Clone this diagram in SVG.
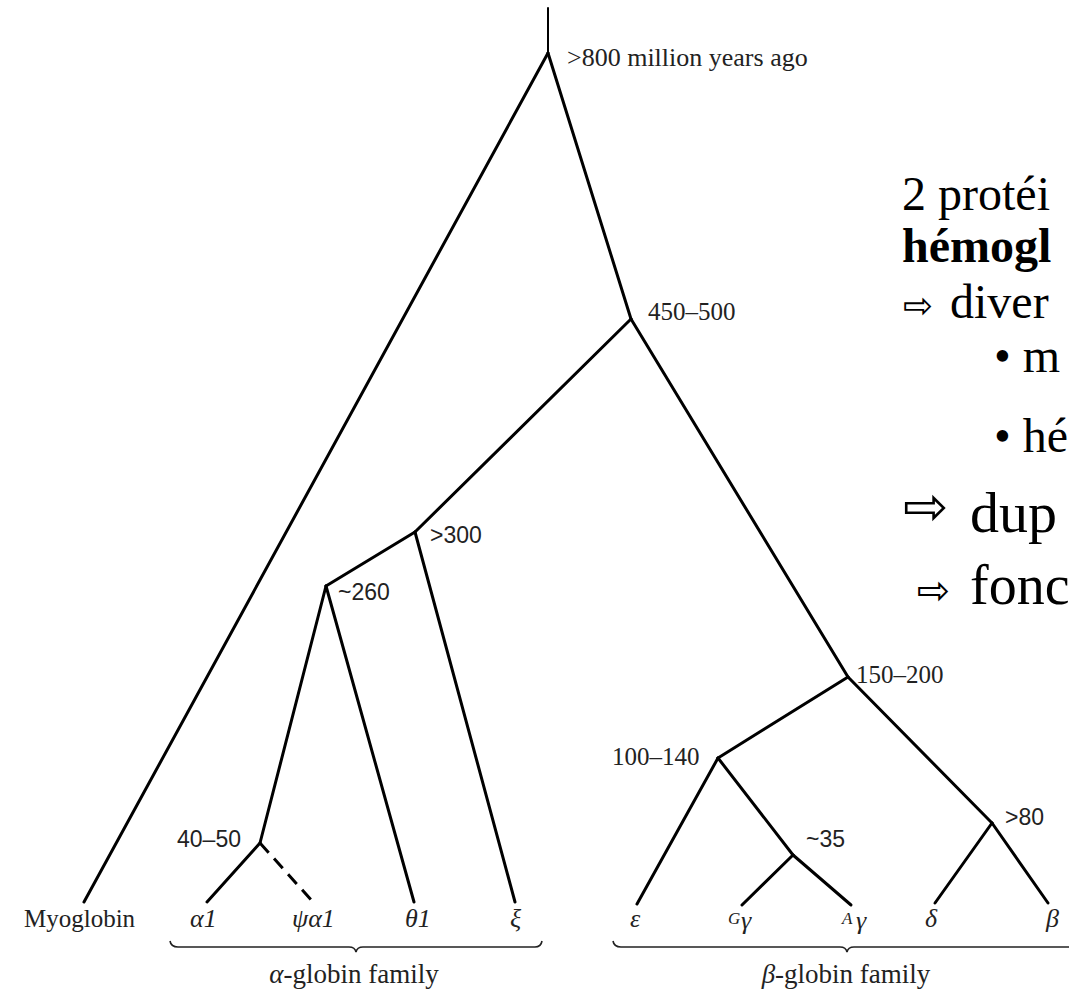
<svg xmlns="http://www.w3.org/2000/svg" width="1069" height="990" viewBox="0 0 1069 990">
<style>
.br{fill:none;stroke:#000;stroke-width:3;stroke-linecap:round}
.dash{stroke-dasharray:13 8;stroke-linecap:butt}
.brace{fill:none;stroke:#222;stroke-width:1.6}
.lab{font-family:"Liberation Serif","Times New Roman",serif;font-size:25px;fill:#222}
.san{font-family:"Liberation Sans",Arial,sans-serif;font-size:23px;fill:#222}
.leaf{font-family:"Liberation Serif","Times New Roman",serif;font-size:26px;font-style:italic;fill:#222}
.sup{font-family:"Liberation Serif","Times New Roman",serif;font-size:17px;font-style:italic;fill:#222}
.fam{font-family:"Liberation Serif","Times New Roman",serif;font-size:27px;fill:#222}
.txt{font-family:"Liberation Serif","Times New Roman",serif;font-size:48px;fill:#000}
.big{font-family:"Liberation Serif","Times New Roman",serif;font-size:58px;fill:#000}
.arr{font-family:"DejaVu Sans",sans-serif;fill:#000}
</style>
<rect width="1069" height="990" fill="#fff"/>
<g id="connectors">
<path class="br" style="stroke-width:2" d="M548,8 L548,53"/>
<path class="br" d="M548,53 L84,902"/>
<path class="br" d="M548,53 L631,319"/>
<path class="br" d="M631,319 L415,532"/>
<path class="br" d="M631,319 L848,677"/>
<path class="br" d="M415,532 L326,586"/>
<path class="br" d="M415,532 L515,902"/>
<path class="br" d="M326,586 L260,843"/>
<path class="br" d="M326,586 L414,902"/>
<path class="br" d="M260,843 L207,902"/>
<path class="br dash" d="M260,843 L313,902"/>
<path class="br" d="M848,677 L718,758"/>
<path class="br" d="M848,677 L992,823"/>
<path class="br" d="M718,758 L637,904"/>
<path class="br" d="M718,758 L793,855"/>
<path class="br" d="M793,855 L742,905"/>
<path class="br" d="M793,855 L851,905"/>
<path class="br" d="M992,823 L935,903"/>
<path class="br" d="M992,823 L1048,903"/>
</g>
<g id="node-root"><text class="lab" x="567" y="66" style="font-size:26px">&gt;800 million years ago</text></g>
<g id="node-450"><text class="lab" x="648" y="320">450–500</text></g>
<g id="node-300"><text class="san" x="430" y="543">&gt;300</text></g>
<g id="node-260"><text class="san" x="338" y="600">~260</text></g>
<g id="node-40"><text class="san" x="241" y="847" text-anchor="end">40–50</text></g>
<g id="node-150"><text class="lab" x="856" y="683">150–200</text></g>
<g id="node-100"><text class="lab" x="612" y="765">100–140</text></g>
<g id="node-35"><text class="san" x="806" y="847">~35</text></g>
<g id="node-80"><text class="san" x="1005" y="825">&gt;80</text></g>
<g id="leaf-myoglobin"><text class="lab" x="24" y="927">Myoglobin</text></g>
<g id="leaf-a1"><text class="leaf" x="190" y="927">α1</text></g>
<g id="leaf-psia1"><text class="leaf" x="292" y="927">ψα1</text></g>
<g id="leaf-theta1"><text class="leaf" x="405" y="927">θ1</text></g>
<g id="leaf-xi"><text class="leaf" x="510" y="927">ξ</text></g>
<g id="leaf-eps"><text class="leaf" x="630" y="927">ε</text></g>
<g id="leaf-Gg"><text class="sup" x="728" y="924">G</text><text class="leaf" x="741" y="929">γ</text></g>
<g id="leaf-Ag"><text class="sup" x="842" y="924">A</text><text class="leaf" x="856" y="929">γ</text></g>
<g id="leaf-delta"><text class="leaf" x="925" y="927">δ</text></g>
<g id="leaf-beta"><text class="leaf" x="1046" y="927">β</text></g>
<g id="alpha-family">
<path class="brace" d="M170,941 Q171,947 178,947 L349,947 Q355,947 356,952 Q357,947 363,947 L535,947 Q541,947 542,941"/>
<text class="fam" x="354" y="983" text-anchor="middle"><tspan font-style="italic">α</tspan>-globin family</text>
</g>
<g id="beta-family">
<path class="brace" d="M613,941 Q614,947 621,947 L840,947 Q846,947 847,952 Q848,947 854,947 L1069,947"/>
<text class="fam" x="846" y="983" text-anchor="middle"><tspan font-style="italic">β</tspan>-globin family</text>
</g>
<g id="notes">
<text class="txt" x="902" y="210">2 protéi</text>
<text class="txt" x="902" y="262" font-weight="bold">hémogl</text>
<text class="arr" x="903" y="318" font-size="36">⇨</text>
<text class="txt" x="950" y="318">diver</text>
<text class="txt" x="994" y="372">• m</text>
<text class="txt" x="994" y="452">• hé</text>
<text class="arr" x="903" y="525" font-size="54">⇨</text>
<text class="big" x="970" y="532">dup</text>
<text class="arr" x="917" y="604" font-size="40">⇨</text>
<text class="big" x="970" y="604" style="font-size:56px">fonc</text>
</g>
</svg>
